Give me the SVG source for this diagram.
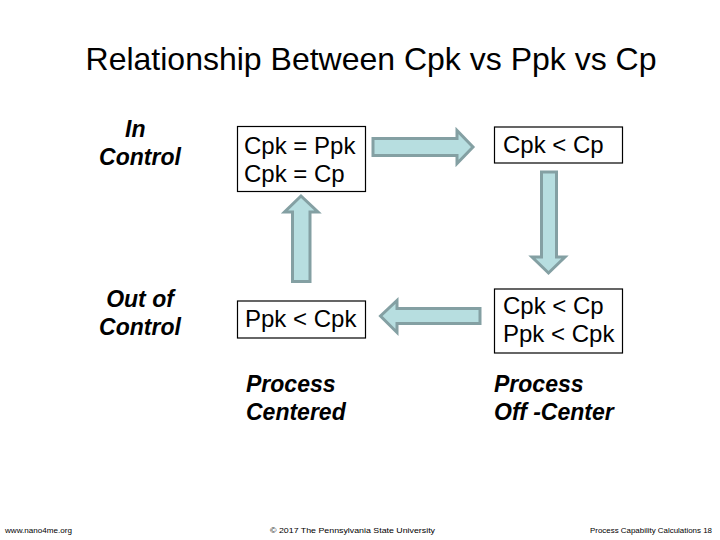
<svg xmlns="http://www.w3.org/2000/svg" width="720" height="540" viewBox="0 0 720 540">
<style>
.t{font-family:"Liberation Sans",Arial,sans-serif;fill:#000}
.title{font-size:32px}
.box{fill:#fff;stroke:#000;stroke-width:1.2}
.bt{font-size:24px}
.lab{font-size:23px;font-weight:bold;font-style:italic}
.arr{fill:#B7DEE0;stroke:#84A0A3;stroke-width:3;stroke-linejoin:miter}
.ft{font-size:7.5px}
</style>
<rect width="720" height="540" fill="#fff"/>
<text class="t title" x="371" y="70" text-anchor="middle">Relationship Between Cpk vs Ppk vs Cp</text>
<g id="row-labels">
<text class="t lab" x="125" y="137">In</text>
<text class="t lab" x="140" y="165" text-anchor="middle">Control</text>
<text class="t lab" x="140" y="307" text-anchor="middle">Out of</text>
<text class="t lab" x="140" y="335" text-anchor="middle">Control</text>
</g>
<g id="col-labels">
<text class="t lab" x="246" y="392">Process</text>
<text class="t lab" x="246" y="420">Centered</text>
<text class="t lab" x="494" y="392">Process</text>
<text class="t lab" x="494" y="420">Off -Center</text>
</g>
<g id="connectors">
<path class="arr" d="M373,138.5 H457 V130.5 L473,147 L457,163.5 V155.5 H373 Z"/>
<path class="arr" d="M541.5,172 H556.5 V257 H565 L548.5,273 L532,257 H541.5 Z"/>
<path class="arr" d="M480,308.5 V323.5 H397 V332.5 L380.5,316 L397,300.5 V308.5 Z"/>
<path class="arr" d="M292.5,281.5 H310 V212 H318 L301,196 L284.5,212 H292.5 Z"/>
</g>
<g id="node-centered-in-control">
<rect class="box" x="237.5" y="126.5" width="128" height="65"/>
<text class="t bt" x="244" y="153.5">Cpk = Ppk</text>
<text class="t bt" x="244" y="182">Cpk = Cp</text>
</g>
<g id="node-offcenter-in-control">
<rect class="box" x="494.5" y="127" width="128" height="36"/>
<text class="t bt" x="503" y="153">Cpk &lt; Cp</text>
</g>
<g id="node-centered-out-of-control">
<rect class="box" x="237.5" y="301" width="128" height="37"/>
<text class="t bt" x="245" y="327">Ppk &lt; Cpk</text>
</g>
<g id="node-offcenter-out-of-control">
<rect class="box" x="494.5" y="289" width="128" height="64"/>
<text class="t bt" x="503" y="314">Cpk &lt; Cp</text>
<text class="t bt" x="503" y="342">Ppk &lt; Cpk</text>
</g>
<g id="footer">
<text class="t ft" x="5" y="533" textLength="67" lengthAdjust="spacingAndGlyphs">www.nano4me.org</text>
<text class="t ft" x="270" y="533" textLength="165" lengthAdjust="spacingAndGlyphs">© 2017 The Pennsylvania State University</text>
<text class="t ft" x="590" y="533" textLength="122" lengthAdjust="spacingAndGlyphs">Process Capability Calculations 18</text>
</g>
</svg>
